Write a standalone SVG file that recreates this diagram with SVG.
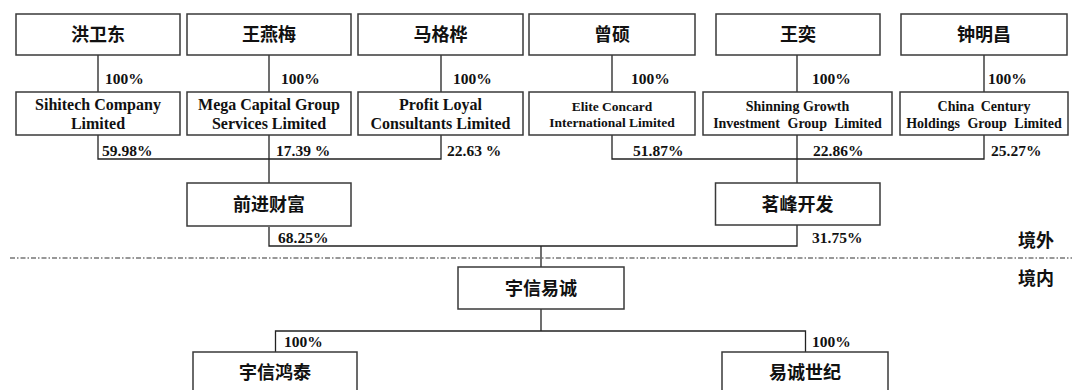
<svg xmlns="http://www.w3.org/2000/svg" width="1072" height="390" viewBox="0 0 1072 390">
<style>
.box{fill:#fff;stroke:#3a3a3a;stroke-width:1.5}
.ln{fill:none;stroke:#222;stroke-width:1.3}
.zh{font-family:"Noto Sans CJK SC","Noto Sans",sans-serif;font-size:18px;font-weight:bold;fill:#111;text-anchor:middle}
.en{font-family:"Liberation Serif",serif;font-size:16px;font-weight:bold;fill:#111;text-anchor:middle}
.pc{font-family:"Liberation Serif",serif;font-size:15.5px;font-weight:bold;fill:#111}
.dash{fill:none;stroke:#333;stroke-width:1.2;stroke-dasharray:5 2 1.5 2}
</style>
<rect width="1072" height="390" fill="#fff"/>
<g id="connectors">
<path class="ln" d="M98 55V92M269 55V92M441 55V92M612 55V92M797 55V92M984 55V92"/>
<path class="ln" d="M98 135V159H441V135M269 135V183"/>
<path class="ln" d="M612 135V159H984V135M797 135V183"/>
<path class="ln" d="M269 227V246H797V225M541 246V267"/>
<path class="ln" d="M541 309V331M275.5 352V331H805.5V352"/>
<path class="dash" d="M10 258H1072"/>
</g>
<g id="labels">
<text class="pc" x="105" y="83.5">100%</text>
<text class="pc" x="281" y="83.5">100%</text>
<text class="pc" x="453" y="83.5">100%</text>
<text class="pc" x="631" y="83.5">100%</text>
<text class="pc" x="812" y="83.5">100%</text>
<text class="pc" x="988" y="83.5">100%</text>
<text class="pc" x="102" y="155.5">59.98%</text>
<text class="pc" x="276" y="155.5">17.39 %</text>
<text class="pc" x="447" y="155.5">22.63 %</text>
<text class="pc" x="633" y="155.5">51.87%</text>
<text class="pc" x="813" y="155.5">22.86%</text>
<text class="pc" x="991" y="155.5">25.27%</text>
<text class="pc" x="278" y="242.5">68.25%</text>
<text class="pc" x="812" y="242.5">31.75%</text>
<text class="pc" x="284" y="346.5">100%</text>
<text class="pc" x="812" y="346.5">100%</text>
<text class="zh" x="1036" y="246.5">境外</text>
<text class="zh" x="1036" y="284.5">境内</text>
</g>
<g id="n-hongweidong"><rect class="box" x="16" y="14" width="164" height="41"/><text class="zh" x="98" y="41">洪卫东</text></g>
<g id="n-wangyanmei"><rect class="box" x="187" y="14" width="164" height="41"/><text class="zh" x="269" y="41">王燕梅</text></g>
<g id="n-magehua"><rect class="box" x="358" y="14" width="165" height="41"/><text class="zh" x="440.5" y="41">马格桦</text></g>
<g id="n-zengshuo"><rect class="box" x="529" y="14" width="166" height="41"/><text class="zh" x="612" y="41">曾硕</text></g>
<g id="n-wangyi"><rect class="box" x="716" y="14" width="164" height="41"/><text class="zh" x="798" y="41">王奕</text></g>
<g id="n-zhongmingchang"><rect class="box" x="901" y="14" width="166" height="41"/><text class="zh" x="984" y="41">钟明昌</text></g>
<g id="n-sihitech"><rect class="box" x="16" y="92" width="164" height="43"/><text class="en" x="98" y="109.5">Sihitech Company</text><text class="en" x="98" y="129">Limited</text></g>
<g id="n-mega"><rect class="box" x="187" y="92" width="164" height="43"/><text class="en" x="269" y="109.5">Mega Capital Group</text><text class="en" x="269" y="129">Services Limited</text></g>
<g id="n-profit"><rect class="box" x="358" y="92" width="165" height="43"/><text class="en" x="440.5" y="109.5">Profit Loyal</text><text class="en" x="440.5" y="129">Consultants Limited</text></g>
<g id="n-elite"><rect class="box" x="529" y="92" width="166" height="43"/><text class="en" x="612" y="111" style="font-size:13.5px">Elite Concard</text><text class="en" x="612" y="126.5" style="font-size:13.5px">International Limited</text></g>
<g id="n-shinning"><rect class="box" x="703" y="92" width="189" height="43"/><text class="en" x="797.5" y="110.5" style="font-size:14px">Shinning Growth</text><text class="en" x="797.5" y="127.5" style="font-size:14px;word-spacing:4px">Investment Group Limited</text></g>
<g id="n-chinacentury"><rect class="box" x="900" y="92" width="168" height="43"/><text class="en" x="984" y="110.5" style="font-size:14px;word-spacing:3px">China Century</text><text class="en" x="984" y="127.5" style="font-size:14px;word-spacing:4px">Holdings Group Limited</text></g>
<g id="n-qianjin"><rect class="box" x="187" y="183" width="164" height="43"/><text class="zh" x="269" y="211">前进财富</text></g>
<g id="n-mingfeng"><rect class="box" x="715.5" y="183" width="164.5" height="42"/><text class="zh" x="797.5" y="211">茗峰开发</text></g>
<g id="n-yuxinyicheng"><rect class="box" x="458" y="267" width="166" height="42"/><text class="zh" x="541" y="294.5">宇信易诚</text></g>
<g id="n-yuxinhongtai"><rect class="box" x="193" y="352" width="164" height="45"/><text class="zh" x="275" y="378.5">宇信鸿泰</text></g>
<g id="n-yichengshiji"><rect class="box" x="722" y="352" width="166" height="45"/><text class="zh" x="805" y="378.5">易诚世纪</text></g>
</svg>
